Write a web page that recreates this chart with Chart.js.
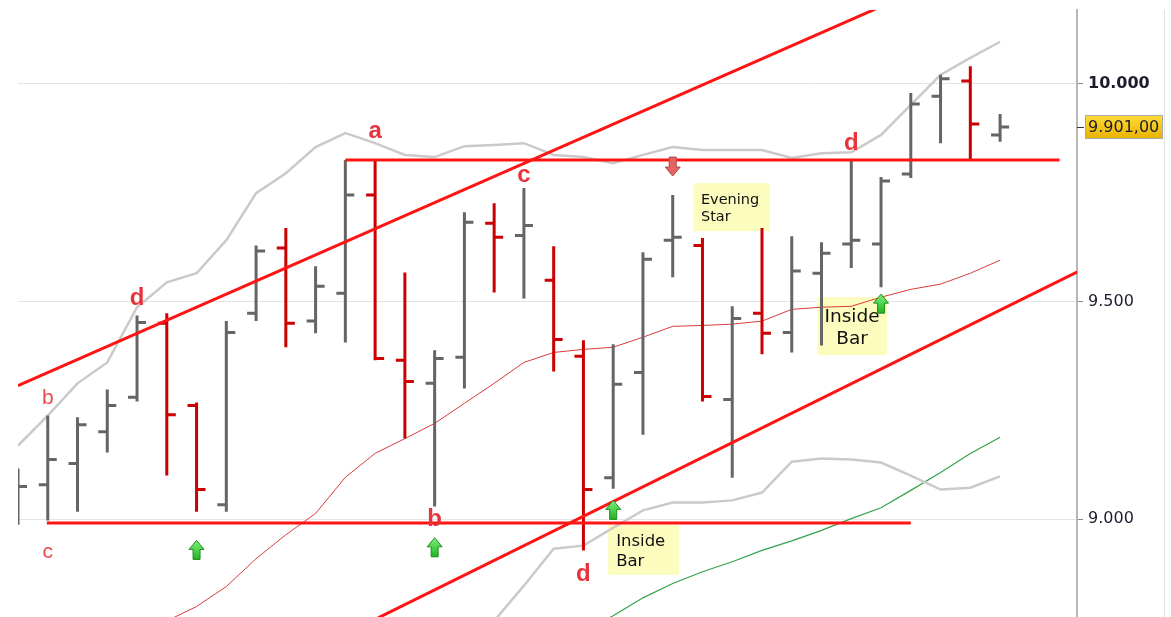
<!DOCTYPE html>
<html lang="de">
<head>
  <meta charset="UTF-8">
  <title>Index Tageschart</title>
  <style type="text/css">
    body, html {
      margin: 0;
      padding: 0;
      background-color: #fff;
      overflow: hidden;
    }
    #chart {
      display: block;
    }
  </style>
  <script src="https://cdn.jsdelivr.net/npm/chart.js"></script>
</head>
<body>
  <canvas id="chart" width="1171" height="617"></canvas>

  <script>
    // daily bars, left to right
    const opens  = [9060, 9079, 9128, 9201, 9280, 9450, 9261, 9033, 9473, 9623, 9455, 9519, 9745, 9365, 9312, 9372, 9680,
                    9652, 9549, 9374, 9095, 9337, 9641, 9629, 9275, 9473, 9429, 9565, 9632, 9632, 9793, 9972, 10007, 9883];
    const highs  = [9116, 9238, 9234, 9298, 9468, 9473, 9268, 9455, 9629, 9669, 9581, 9825, 9825, 9567, 9388, 9705, 9726,
                    9761, 9627, 9411, 9402, 9613, 9745, 9646, 9489, 9669, 9650, 9636, 9825, 9786, 9979, 10021, 10041, 9931];
    const lows   = [8987, 8997, 9017, 9153, 9270, 9100, 9017, 9017, 9455, 9395, 9427, 9406, 9365, 9185, 9029, 9300, 9521,
                    9507, 9339, 8928, 9070, 9194, 9556, 9270, 9095, 9379, 9383, 9399, 9577, 9533, 9784, 9864, 9827, 9867];
    const closes = [9075, 9137, 9217, 9261, 9452, 9240, 9068, 9429, 9616, 9450, 9535, 9745, 9369, 9316, 9369, 9682, 9648,
                    9675, 9413, 9068, 9310, 9597, 9648, 9282, 9461, 9427, 9570, 9611, 9641, 9777, 9954, 10012, 9908, 9901];

    // bollinger bands and averages
    const upperBand  = [9169, 9238, 9312, 9360, 9487, 9544, 9565, 9641, 9749, 9795, 9855, 9887, 9864, 9837, 9832, 9857, 9860,
                        9864, 9837, 9832, 9818, 9837, 9855, 9848, 9848, 9848, 9830, 9841, 9843, 9883, 9952, 10021, 10060, 10097];
    const middleBand = [8590, 8625, 8660, 8695, 8730, 8766, 8799, 8845, 8909, 8964, 9013, 9096, 9151, 9185, 9220, 9266, 9312,
                        9360, 9383, 9390, 9395, 9418, 9443, 9445, 9448, 9455, 9482, 9487, 9489, 9510, 9528, 9540, 9565, 9595];
    const lowerBand  = [8011, 8012, 8008, 8030, 7973, 7988, 8033, 8049, 8069, 8133, 8171, 8305, 8438, 8533, 8608, 8675, 8766,
                        8847, 8932, 8939, 8980, 9020, 9038, 9038, 9043, 9061, 9132, 9139, 9137, 9130, 9100, 9068, 9072, 9098];
    const longAverage = [null, null, null, null, null, null, null, null, null, null, null, null, null, null, null, null, null,
                         8670, 8705, 8742, 8778, 8819, 8852, 8879, 8902, 8928, 8950, 8974, 9001, 9026, 9066, 9107, 9151, 9188];

    // drawn trend lines: [bar index, price]
    const channelTop    = [[0, 9307], [30, 10208]];
    const channelBottom = [[12.1, 8773], [35.6, 9568]];
    const resistance    = [[11, 9825], [35.0, 9825]];
    const support       = [[0.97, 8991], [30.0, 8991]];

    const yTicks = [9000, 9500, 10000];
    const lastPrice = 9901;

    // wave letters, signal arrows, pattern notes
    const letters = [
      { t: 'b', i: 1,  v: 9277, bold: false },
      { t: 'c', i: 1,  v: 8925, bold: false },
      { t: 'd', i: 4,  v: 9507, bold: true },
      { t: 'a', i: 12, v: 9890, bold: true },
      { t: 'b', i: 14, v: 8999, bold: true },
      { t: 'c', i: 17, v: 9791, bold: true },
      { t: 'd', i: 19, v: 8872, bold: true },
      { t: 'd', i: 28, v: 9864, bold: true }
    ];
    const upArrows = [[6, 8951], [14, 8957], [20, 9043], [29, 9517]];
    const downArrows = [[22, 9832]];
    const notes = [
      { lines: ['Evening', 'Star'], i: 22.68, v: 9772, w: 77, h: 48, size: 14.5, align: 'left' },
      { lines: ['Inside', 'Bar'],   i: 19.83, v: 8987, w: 71, h: 50, size: 16.5, align: 'left' },
      { lines: ['Inside', 'Bar'],   i: 26.85, v: 9510, w: 70, h: 58, size: 18.5, align: 'center' }
    ];

    const pts = (arr) => arr.map((v, i) => ({ x: i, y: v }));
    const seg = (arr) => arr.map(p => ({ x: p[0], y: p[1] }));
    const fmt = (v) => String(v).replace(/\B(?=(\d{3})+(?!\d))/g, '.');

    function trend(data) {
      return { data: seg(data), borderColor: '#ff1414', borderWidth: 3, pointRadius: 0, tension: 0 };
    }

    // OHLC bars, drawn between the indicator lines and the trend lines
    const ohlcBars = {
      id: 'ohlcBars',
      beforeDatasetDraw(chart, args) {
        if (args.index !== 3) return;
        const ctx = chart.ctx, xs = chart.scales.x, ys = chart.scales.y, a = chart.chartArea;
        ctx.save();
        ctx.beginPath();
        ctx.rect(a.left, a.top, a.right - a.left, a.bottom - a.top);
        ctx.clip();
        ctx.lineWidth = 3;
        ctx.lineCap = 'butt';
        for (let i = 0; i < closes.length; i++) {
          const x = xs.getPixelForValue(i);
          ctx.strokeStyle = closes[i] >= opens[i] ? '#656565' : '#cc0000';
          ctx.beginPath();
          ctx.moveTo(x, ys.getPixelForValue(highs[i]));
          ctx.lineTo(x, ys.getPixelForValue(lows[i]));
          ctx.moveTo(x - 9, ys.getPixelForValue(opens[i]));
          ctx.lineTo(x, ys.getPixelForValue(opens[i]));
          ctx.moveTo(x, ys.getPixelForValue(closes[i]));
          ctx.lineTo(x + 9, ys.getPixelForValue(closes[i]));
          ctx.stroke();
        }
        ctx.restore();
      }
    };

    function arrow(ctx, cx, top, dir, fill, stroke) {
      const w = 15, h = 19, head = 9, shaft = 7;
      const s = dir; // 1 = up, -1 = down
      const y0 = dir === 1 ? top : top + h;
      ctx.beginPath();
      ctx.moveTo(cx, y0);
      ctx.lineTo(cx + w / 2, y0 + s * head);
      ctx.lineTo(cx + shaft / 2, y0 + s * head);
      ctx.lineTo(cx + shaft / 2, y0 + s * h);
      ctx.lineTo(cx - shaft / 2, y0 + s * h);
      ctx.lineTo(cx - shaft / 2, y0 + s * head);
      ctx.lineTo(cx - w / 2, y0 + s * head);
      ctx.closePath();
      ctx.fillStyle = fill;
      ctx.fill();
      ctx.lineWidth = 1;
      ctx.strokeStyle = stroke;
      ctx.stroke();
    }

    const markup = {
      id: 'markup',
      beforeDatasetsDraw(chart) {
        const ctx = chart.ctx, xs = chart.scales.x, ys = chart.scales.y;
        ctx.save();
        notes.forEach(n => {
          const x = xs.getPixelForValue(n.i), y = ys.getPixelForValue(n.v);
          ctx.fillStyle = '#fdfcbf';
          ctx.fillRect(x, y, n.w, n.h);
          ctx.fillStyle = '#111';
          ctx.font = n.size + 'px "DejaVu Sans"';
          ctx.textAlign = n.align;
          ctx.textBaseline = 'alphabetic';
          const tx = n.align === 'center' ? x + n.w / 2 : x + 8;
          const lh = n.size * 1.22;
          const firstBase = y + n.h / 2 - lh / 2 + n.size * 0.36;
          n.lines.forEach((l, k) => ctx.fillText(l, tx, firstBase + k * lh));
        });
        ctx.restore();
      },
      afterDatasetsDraw(chart) {
        const ctx = chart.ctx, xs = chart.scales.x, ys = chart.scales.y;
        ctx.save();
        upArrows.forEach(p => {
          const g = ctx.createLinearGradient(0, ys.getPixelForValue(p[1]), 0, ys.getPixelForValue(p[1]) + 19);
          g.addColorStop(0, '#7cf07c');
          g.addColorStop(1, '#22b322');
          arrow(ctx, xs.getPixelForValue(p[0]), ys.getPixelForValue(p[1]), 1, g, '#1c8c1c');
        });
        downArrows.forEach(p => {
          arrow(ctx, xs.getPixelForValue(p[0]), ys.getPixelForValue(p[1]), -1, '#e26464', '#b94545');
        });
        ctx.textAlign = 'center';
        ctx.textBaseline = 'middle';
        letters.forEach(l => {
          ctx.font = l.bold ? 'bold 24px "Liberation Sans", Arial' : '21px "Liberation Sans", Arial';
          ctx.fillStyle = l.bold ? '#e8333c' : '#ea4a52';
          ctx.fillText(l.t, xs.getPixelForValue(l.i), ys.getPixelForValue(l.v));
        });
        ctx.restore();
      },
      afterDraw(chart) {
        const ctx = chart.ctx, ys = chart.scales.y, a = chart.chartArea;
        ctx.save();
        // outer frame line on the right
        ctx.strokeStyle = '#e2e2e2';
        ctx.lineWidth = 1;
        ctx.beginPath();
        ctx.moveTo(1164.5, a.top);
        ctx.lineTo(1164.5, a.bottom);
        ctx.stroke();
        // last price tag
        const y = Math.round(ys.getPixelForValue(lastPrice));
        ctx.strokeStyle = '#333';
        ctx.beginPath();
        ctx.moveTo(a.right, y + 0.5);
        ctx.lineTo(a.right + 7, y + 0.5);
        ctx.stroke();
        const g = ctx.createLinearGradient(0, y - 12, 0, y + 12);
        g.addColorStop(0, '#ffdb3a');
        g.addColorStop(1, '#e8b200');
        ctx.fillStyle = g;
        ctx.fillRect(a.right + 8, y - 12, 78, 24);
        ctx.strokeStyle = '#a8a8a8';
        ctx.strokeRect(a.right + 8.5, y - 11.5, 77, 23);
        ctx.fillStyle = '#1c1c2c';
        ctx.font = '16px "DejaVu Sans"';
        ctx.textAlign = 'left';
        ctx.textBaseline = 'middle';
        ctx.fillText(fmt(lastPrice) + ',00', a.right + 11, y + 1);
        ctx.restore();
      }
    };

    Chart.defaults.font.family = '"DejaVu Sans", Verdana, sans-serif';

    const ctx = document.getElementById('chart').getContext('2d');
    new Chart(ctx, {
      type: 'line',
      data: {
        datasets: [
          trend(channelTop),
          trend(channelBottom),
          trend(resistance),
          trend(support),
          { data: pts(upperBand), borderColor: '#cacaca', borderWidth: 2.5, pointRadius: 0, tension: 0 },
          { data: pts(lowerBand), borderColor: '#cacaca', borderWidth: 2.5, pointRadius: 0, tension: 0 },
          { data: pts(middleBand), borderColor: '#d83c3c', borderWidth: 1, pointRadius: 0, tension: 0 },
          { data: pts(longAverage), borderColor: '#35a24a', borderWidth: 1.2, pointRadius: 0, tension: 0 }
        ]
      },
      options: {
        responsive: false,
        animation: false,
        events: [],
        layout: { padding: { left: 18, top: 10, right: 0, bottom: 0 } },
        plugins: {
          legend: { display: false },
          tooltip: { enabled: false }
        },
        scales: {
          x: { type: 'linear', min: 0, max: 35.585, display: false },
          y: {
            position: 'right',
            min: 8775,
            max: 10170,
            afterBuildTicks: (s) => { s.ticks = yTicks.map(v => ({ value: v })); },
            afterFit: (s) => { s.width = 94; s.paddingTop = 0; s.paddingBottom = 0; },
            grid: { color: '#e4e4e4', lineWidth: 1, tickLength: 6, tickColor: '#8a8a8a' },
            border: { color: '#b8b8b8', width: 2 },
            ticks: {
              padding: 5,
              color: '#1c1c2c',
              font: (c) => ({ family: '"DejaVu Sans"', size: 16, weight: c.tick && c.tick.value === 10000 ? 'bold' : 'normal' }),
              callback: (v) => fmt(v)
            }
          }
        }
      },
      plugins: [ohlcBars, markup]
    });
  </script>
</body>
</html>
